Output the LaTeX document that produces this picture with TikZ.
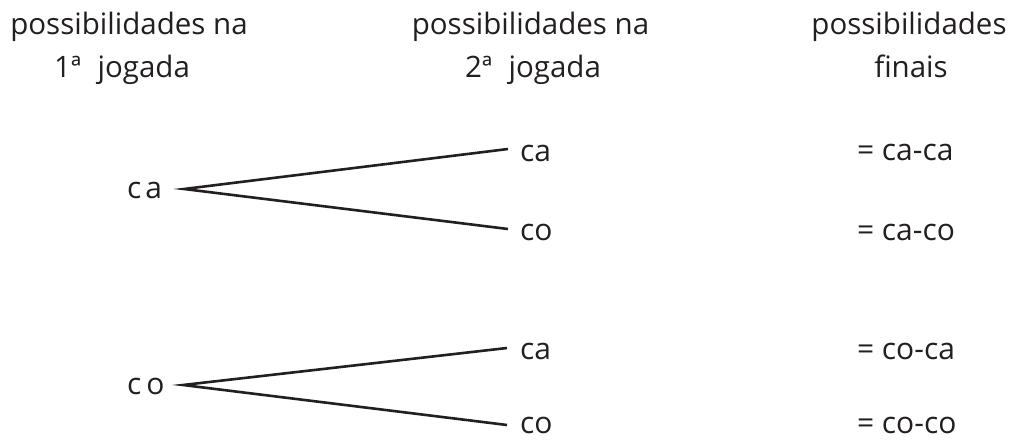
\documentclass[tikz,border=0pt]{standalone}
\usepackage{fontspec}
\setmainfont{Open Sans}
\definecolor{ink}{HTML}{231F20}
\begin{document}
\begin{tikzpicture}[x=1pt,y=-1pt,
  every node/.style={inner sep=0pt,outer sep=0pt,text=ink,font=\fontsize{30}{32}\selectfont},
  head/.style={anchor=base,font=\fontsize{29.5}{30}\selectfont},
  lab/.style={anchor=west},
  branch/.style={draw=ink,line width=2.6pt}]
\useasboundingbox (0,0) rectangle (1011,441);
% headers
\node[head] (h1a) at (129,35) {possibilidades na};
\node[head] (h1b) at (122,78) {1ª\hspace{0.55em}jogada};
\node[head] (h2a) at (530.5,35) {possibilidades na};
\node[head] (h2b) at (533,78) {2ª\hspace{0.55em}jogada};
\node[head] (h3a) at (909,35) {possibilidades};
\node[head] (h3b) at (911,78) {finais};
% first tree
\node[lab] (r1) at (127,190) {c\hspace{4pt}a};
\node[lab] (s11) at (520,153) {ca};
\node[lab] (s12) at (520,232) {co};
\node[lab] (f11) at (857,152) {= ca-ca};
\node[lab] (f12) at (857,232) {= ca-co};
\coordinate (a1) at (184,189);
\coordinate (e11) at (508,149);
\coordinate (e12) at (508,229);
\draw[branch] (e11) -- (a1) -- (e12);
% second tree
\node[lab] (r2) at (127,386) {c\hspace{5pt}o};
\node[lab] (s21) at (520,351) {ca};
\node[lab] (s22) at (520,425) {co};
\node[lab] (f21) at (857,351) {= co-ca};
\node[lab] (f22) at (857,425) {= co-co};
\coordinate (a2) at (183,385);
\coordinate (e21) at (507,348);
\coordinate (e22) at (507,425);
\draw[branch] (e21) -- (a2) -- (e22);
\end{tikzpicture}
\end{document}
